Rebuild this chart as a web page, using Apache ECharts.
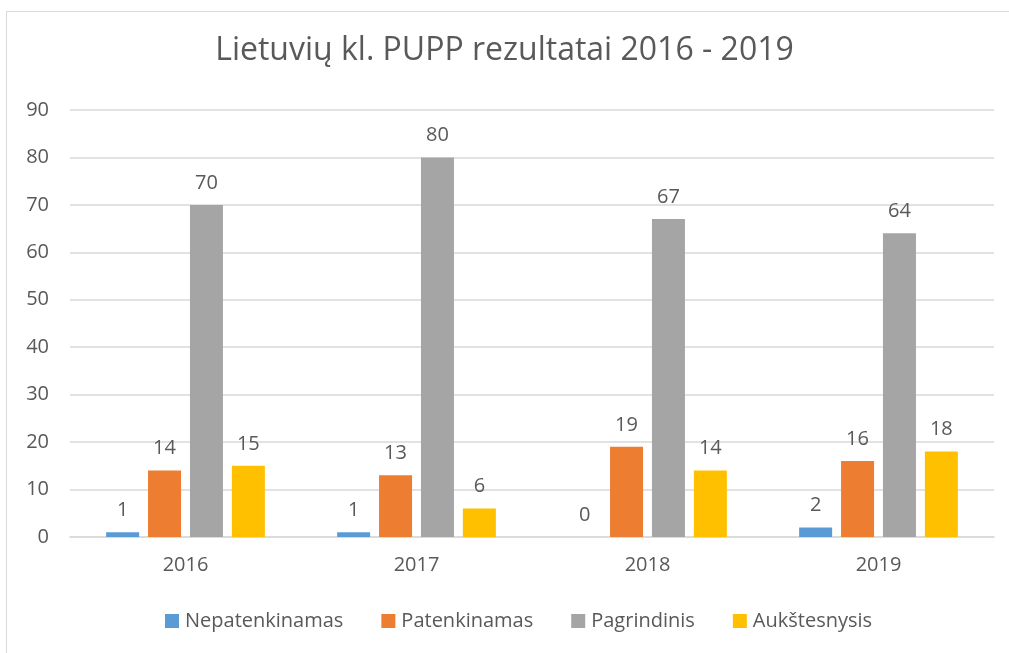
<!DOCTYPE html>
<html>
<head>
<meta charset="utf-8">
<script src="https://cdn.jsdelivr.net/npm/echarts@6/dist/echarts.min.js"></script>
<style>
  html, body { margin: 0; padding: 0; background: #fff; }
  #frame { position: absolute; left: 6px; top: 11px; width: 1020px; height: 700px; border: 1px solid #d9d9d9; }
  #chart { position: absolute; left: 0; top: 0; width: 1009px; height: 653px; }
</style>
</head>
<body>
<div id="frame"></div>
<div id="chart"></div>
<script>
const years = ['2016', '2017', '2018', '2019'];
const nepatenkinamas = [1, 1, 0, 2];
const patenkinamas = [14, 13, 19, 16];
const pagrindinis = [70, 80, 67, 64];
const aukstesnysis = [15, 6, 14, 18];

const font = '"Open Sans", sans-serif';
const txt = '#595959';

const mkSeries = (name, data, color) => ({
    name: name,
    type: 'bar',
    data: data,
    barWidth: 33,
    barGap: '27%',
    itemStyle: {color: color},
    label: {
        show: true,
        position: 'top',
        distance: 12,
        color: txt,
        fontSize: 20,
        fontFamily: font
    }
});

const myChart = echarts.init(document.getElementById('chart'));
const option = {
    animation: false,
    title: {
        text: 'Lietuvių kl. PUPP rezultatai 2016 - 2019',
        left: 'center',
        top: 30,
        textStyle: {color: txt, fontSize: 32, fontWeight: 'normal', fontFamily: font}
    },
    legend: {
        bottom: 17,
        left: 160,
        itemWidth: 14,
        itemHeight: 14,
        itemGap: 38,
        icon: 'rect',
        textStyle: {color: txt, fontSize: 20, fontFamily: font, padding: [0, 0, 0, 1]}
    },
    grid: {left: 70, right: 15, top: 110, bottom: 116, containLabel: false},
    xAxis: {
        type: 'category',
        data: years,
        axisLine: {lineStyle: {color: '#d9d9d9', width: 1.5}},
        axisTick: {show: false},
        axisLabel: {color: txt, fontSize: 20, fontFamily: font, margin: 18}
    },
    yAxis: {
        type: 'value',
        min: 0,
        max: 90,
        interval: 10,
        axisLine: {show: false},
        axisTick: {show: false},
        splitLine: {lineStyle: {color: '#d9d9d9', width: 1.5}},
        axisLabel: {color: txt, fontSize: 20, fontFamily: font, margin: 21}
    },
    series: [
        mkSeries('Nepatenkinamas', nepatenkinamas, '#5b9bd5'),
        mkSeries('Patenkinamas', patenkinamas, '#ed7d31'),
        mkSeries('Pagrindinis', pagrindinis, '#a5a5a5'),
        mkSeries('Aukštesnysis', aukstesnysis, '#ffc000')
    ]
};
myChart.setOption(option);
</script>
</body>
</html>
